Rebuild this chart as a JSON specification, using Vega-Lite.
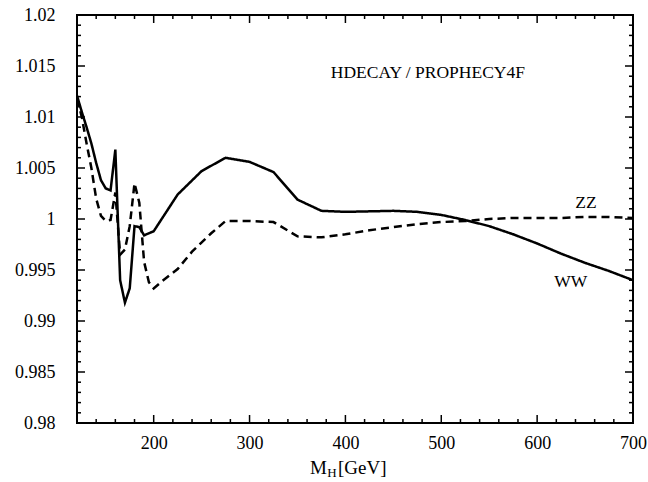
{
  "$schema": "https://vega.github.io/schema/vega-lite/v6.json",
  "width": 556,
  "height": 408,
  "autosize": {"type": "none"},
  "padding": {"left": 77, "top": 15, "right": 15, "bottom": 59},
  "background": "white",
  "config": {
    "view": {"stroke": "black", "strokeWidth": 2},
    "font": "Liberation Serif",
    "axis": {"labelFont": "Liberation Serif", "labelFontSize": 18, "labelColor": "black", "domain": false, "ticks": false, "grid": false, "title": null, "labelFlush": false, "labelOverlap": false}
  },
  "datasets": {
    "curves": [
      {"M": 120, "r": 1.0121, "s": "WW"}, {"M": 125, "r": 1.0105, "s": "WW"}, {"M": 130, "r": 1.0090, "s": "WW"}, {"M": 135, "r": 1.0074, "s": "WW"}, {"M": 140, "r": 1.0055, "s": "WW"}, {"M": 145, "r": 1.0038, "s": "WW"}, {"M": 150, "r": 1.0030, "s": "WW"}, {"M": 155, "r": 1.0028, "s": "WW"}, {"M": 160, "r": 1.0068, "s": "WW"}, {"M": 165, "r": 0.9940, "s": "WW"}, {"M": 170, "r": 0.9918, "s": "WW"}, {"M": 175, "r": 0.9932, "s": "WW"}, {"M": 180, "r": 0.9993, "s": "WW"}, {"M": 185, "r": 0.9992, "s": "WW"}, {"M": 190, "r": 0.9984, "s": "WW"}, {"M": 200, "r": 0.9988, "s": "WW"}, {"M": 225, "r": 1.0024, "s": "WW"}, {"M": 250, "r": 1.0047, "s": "WW"}, {"M": 275, "r": 1.0060, "s": "WW"}, {"M": 300, "r": 1.0056, "s": "WW"}, {"M": 325, "r": 1.0046, "s": "WW"}, {"M": 350, "r": 1.0019, "s": "WW"}, {"M": 375, "r": 1.0008, "s": "WW"}, {"M": 400, "r": 1.0007, "s": "WW"}, {"M": 450, "r": 1.0008, "s": "WW"}, {"M": 475, "r": 1.0007, "s": "WW"}, {"M": 500, "r": 1.0004, "s": "WW"}, {"M": 525, "r": 0.9999, "s": "WW"}, {"M": 550, "r": 0.9993, "s": "WW"}, {"M": 575, "r": 0.9985, "s": "WW"}, {"M": 600, "r": 0.9976, "s": "WW"}, {"M": 625, "r": 0.9966, "s": "WW"}, {"M": 650, "r": 0.9957, "s": "WW"}, {"M": 675, "r": 0.9949, "s": "WW"}, {"M": 700, "r": 0.9940, "s": "WW"},
      {"M": 120, "r": 1.0118, "s": "ZZ"}, {"M": 125, "r": 1.0100, "s": "ZZ"}, {"M": 130, "r": 1.0074, "s": "ZZ"}, {"M": 135, "r": 1.0050, "s": "ZZ"}, {"M": 140, "r": 1.0020, "s": "ZZ"}, {"M": 145, "r": 1.0003, "s": "ZZ"}, {"M": 150, "r": 0.9998, "s": "ZZ"}, {"M": 155, "r": 0.9999, "s": "ZZ"}, {"M": 160, "r": 1.0026, "s": "ZZ"}, {"M": 165, "r": 0.9965, "s": "ZZ"}, {"M": 170, "r": 0.9970, "s": "ZZ"}, {"M": 175, "r": 0.9993, "s": "ZZ"}, {"M": 180, "r": 1.0035, "s": "ZZ"}, {"M": 185, "r": 1.0016, "s": "ZZ"}, {"M": 190, "r": 0.9958, "s": "ZZ"}, {"M": 195, "r": 0.9938, "s": "ZZ"}, {"M": 200, "r": 0.9932, "s": "ZZ"}, {"M": 210, "r": 0.9940, "s": "ZZ"}, {"M": 225, "r": 0.9951, "s": "ZZ"}, {"M": 240, "r": 0.9968, "s": "ZZ"}, {"M": 260, "r": 0.9986, "s": "ZZ"}, {"M": 275, "r": 0.9998, "s": "ZZ"}, {"M": 300, "r": 0.9998, "s": "ZZ"}, {"M": 325, "r": 0.9997, "s": "ZZ"}, {"M": 350, "r": 0.9983, "s": "ZZ"}, {"M": 375, "r": 0.9982, "s": "ZZ"}, {"M": 400, "r": 0.9985, "s": "ZZ"}, {"M": 425, "r": 0.9989, "s": "ZZ"}, {"M": 450, "r": 0.9992, "s": "ZZ"}, {"M": 475, "r": 0.9995, "s": "ZZ"}, {"M": 500, "r": 0.9997, "s": "ZZ"}, {"M": 525, "r": 0.9998, "s": "ZZ"}, {"M": 550, "r": 1.0000, "s": "ZZ"}, {"M": 575, "r": 1.0001, "s": "ZZ"}, {"M": 600, "r": 1.0001, "s": "ZZ"}, {"M": 625, "r": 1.0001, "s": "ZZ"}, {"M": 650, "r": 1.0002, "s": "ZZ"}, {"M": 675, "r": 1.0002, "s": "ZZ"}, {"M": 700, "r": 1.0001, "s": "ZZ"}
    ],
    "xticks": [
      {"v": 140, "k": "minor"}, {"v": 160, "k": "minor"}, {"v": 180, "k": "minor"}, {"v": 200, "k": "major"},
      {"v": 220, "k": "minor"}, {"v": 240, "k": "minor"}, {"v": 260, "k": "minor"}, {"v": 280, "k": "minor"}, {"v": 300, "k": "major"},
      {"v": 320, "k": "minor"}, {"v": 340, "k": "minor"}, {"v": 360, "k": "minor"}, {"v": 380, "k": "minor"}, {"v": 400, "k": "major"},
      {"v": 420, "k": "minor"}, {"v": 440, "k": "minor"}, {"v": 460, "k": "minor"}, {"v": 480, "k": "minor"}, {"v": 500, "k": "major"},
      {"v": 520, "k": "minor"}, {"v": 540, "k": "minor"}, {"v": 560, "k": "minor"}, {"v": 580, "k": "minor"}, {"v": 600, "k": "major"},
      {"v": 620, "k": "minor"}, {"v": 640, "k": "minor"}, {"v": 660, "k": "minor"}, {"v": 680, "k": "minor"}
    ],
    "yticks": [
      {"v": 0.981, "k": "minor"}, {"v": 0.982, "k": "minor"}, {"v": 0.983, "k": "minor"}, {"v": 0.984, "k": "minor"}, {"v": 0.985, "k": "major"},
      {"v": 0.986, "k": "minor"}, {"v": 0.987, "k": "minor"}, {"v": 0.988, "k": "minor"}, {"v": 0.989, "k": "minor"}, {"v": 0.99, "k": "major"},
      {"v": 0.991, "k": "minor"}, {"v": 0.992, "k": "minor"}, {"v": 0.993, "k": "minor"}, {"v": 0.994, "k": "minor"}, {"v": 0.995, "k": "major"},
      {"v": 0.996, "k": "minor"}, {"v": 0.997, "k": "minor"}, {"v": 0.998, "k": "minor"}, {"v": 0.999, "k": "minor"}, {"v": 1.0, "k": "major"},
      {"v": 1.001, "k": "minor"}, {"v": 1.002, "k": "minor"}, {"v": 1.003, "k": "minor"}, {"v": 1.004, "k": "minor"}, {"v": 1.005, "k": "major"},
      {"v": 1.006, "k": "minor"}, {"v": 1.007, "k": "minor"}, {"v": 1.008, "k": "minor"}, {"v": 1.009, "k": "minor"}, {"v": 1.01, "k": "major"},
      {"v": 1.011, "k": "minor"}, {"v": 1.012, "k": "minor"}, {"v": 1.013, "k": "minor"}, {"v": 1.014, "k": "minor"}, {"v": 1.015, "k": "major"},
      {"v": 1.016, "k": "minor"}, {"v": 1.017, "k": "minor"}, {"v": 1.018, "k": "minor"}, {"v": 1.019, "k": "minor"}
    ],
    "notes": [
      {"M": 486, "r": 1.0143, "t": "HDECAY / PROPHECY4F"},
      {"M": 651, "r": 1.00157, "t": "ZZ"},
      {"M": 635, "r": 0.99382, "t": "WW"}
    ],
    "xtitle": [
      {"M": 363, "r": 0.97559, "t": "M"},
      {"M": 392.3, "r": 0.97559, "t": "[GeV]"}
    ],
    "xsub": [
      {"M": 381, "r": 0.97505, "t": "H"}
    ]
  },
  "layer": [
    {
      "data": {"name": "curves"},
      "mark": {"type": "line", "color": "black", "strokeWidth": 2.5, "clip": true},
      "encoding": {
        "x": {"field": "M", "type": "quantitative", "scale": {"domain": [120, 700], "nice": false, "zero": false},
          "axis": {"orient": "bottom", "values": [200, 300, 400, 500, 600, 700], "labelPadding": 11}},
        "y": {"field": "r", "type": "quantitative", "scale": {"domain": [0.98, 1.02], "nice": false, "zero": false},
          "axis": {"orient": "left", "values": [0.98, 0.985, 0.99, 0.995, 1, 1.005, 1.01, 1.015, 1.02], "labelPadding": 22, "labelExpr": "format(datum.value, '~r')"}},
        "strokeDash": {"field": "s", "type": "nominal", "scale": {"domain": ["WW", "ZZ"], "range": [[1, 0], [8, 5]]}, "legend": null},
        "detail": {"field": "s"}
      }
    },
    {
      "data": {"name": "xticks"},
      "mark": {"type": "tick", "orient": "vertical", "color": "black", "thickness": 1.5, "opacity": 1, "clip": true},
      "encoding": {
        "x": {"field": "v", "type": "quantitative", "axis": null},
        "y": {"datum": 0.98, "axis": null},
        "size": {"field": "k", "type": "nominal", "scale": {"domain": ["major", "minor"], "range": [16, 8]}, "legend": null}
      }
    },
    {
      "data": {"name": "xticks"},
      "mark": {"type": "tick", "orient": "vertical", "color": "black", "thickness": 1.5, "opacity": 1, "clip": true},
      "encoding": {
        "x": {"field": "v", "type": "quantitative", "axis": null},
        "y": {"datum": 1.02, "axis": null},
        "size": {"field": "k", "type": "nominal", "scale": {"domain": ["major", "minor"], "range": [16, 8]}, "legend": null}
      }
    },
    {
      "data": {"name": "yticks"},
      "mark": {"type": "tick", "orient": "horizontal", "color": "black", "thickness": 1.5, "opacity": 1, "clip": true},
      "encoding": {
        "y": {"field": "v", "type": "quantitative", "axis": null},
        "x": {"datum": 120, "axis": null},
        "size": {"field": "k", "type": "nominal", "scale": {"domain": ["major", "minor"], "range": [16, 8]}, "legend": null}
      }
    },
    {
      "data": {"name": "yticks"},
      "mark": {"type": "tick", "orient": "horizontal", "color": "black", "thickness": 1.5, "opacity": 1, "clip": true},
      "encoding": {
        "y": {"field": "v", "type": "quantitative", "axis": null},
        "x": {"datum": 700, "axis": null},
        "size": {"field": "k", "type": "nominal", "scale": {"domain": ["major", "minor"], "range": [16, 8]}, "legend": null}
      }
    },
    {
      "data": {"name": "notes"},
      "mark": {"type": "text", "font": "Liberation Serif", "fontSize": 17.5, "align": "center", "baseline": "middle", "color": "black"},
      "encoding": {
        "x": {"field": "M", "type": "quantitative", "axis": null},
        "y": {"field": "r", "type": "quantitative", "axis": null},
        "text": {"field": "t"}
      }
    },
    {
      "data": {"name": "xtitle"},
      "mark": {"type": "text", "font": "Liberation Serif", "fontSize": 19, "align": "left", "baseline": "middle", "color": "black"},
      "encoding": {
        "x": {"field": "M", "type": "quantitative", "axis": null},
        "y": {"field": "r", "type": "quantitative", "axis": null},
        "text": {"field": "t"}
      }
    },
    {
      "data": {"name": "xsub"},
      "mark": {"type": "text", "font": "Liberation Serif", "fontSize": 13, "align": "left", "baseline": "middle", "color": "black"},
      "encoding": {
        "x": {"field": "M", "type": "quantitative", "axis": null},
        "y": {"field": "r", "type": "quantitative", "axis": null},
        "text": {"field": "t"}
      }
    }
  ],
  "resolve": {"axis": {"x": "independent", "y": "independent"}}
}
